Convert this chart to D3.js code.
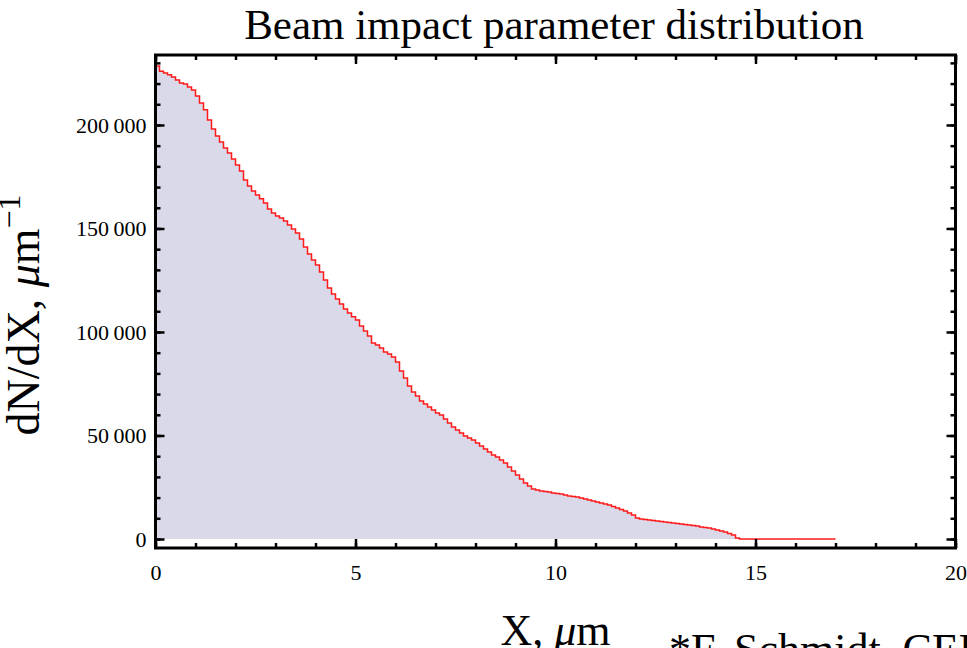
<!DOCTYPE html>
<html>
<head>
<meta charset="utf-8">
<script src="https://cdn.jsdelivr.net/npm/d3@7"></script>
<style>
  body { margin: 0; background: #fff; }
  svg text { font-family: "Liberation Serif", "Times New Roman", serif; fill: #000; }
</style>
</head>
<body>
<script>
// histogram of impact parameter, bins of 0.1 um starting at 0
var binStart = 0;
var binWidth = 0.1;
var dNdX = [
  228500, 226000, 225100, 224200, 223200, 221700, 220300, 219800, 218400, 216900,
  214000, 210600, 207300, 202400, 198100, 194700, 191800, 188900, 186500, 183600,
  180700, 177800, 173400, 170500, 168100, 166200, 164300, 162300, 159400, 157500,
  156000, 155100, 153600, 151700, 149800, 147800, 144900, 141100, 137700, 134800,
  132400, 129000, 125100, 121300, 118400, 115900, 113500, 111100, 109200, 107300,
  105800, 102900, 100500, 98100, 94700, 93700, 92300, 90300, 89400, 87900,
  85500, 81200, 77800, 73900, 71000, 69100, 66700, 65200, 63800, 62300,
  60900, 59900, 58000, 56000, 54100, 52700, 51200, 49800, 48800, 47800,
  46400, 44900, 43500, 42000, 40600, 39600, 38200, 36700, 34800, 32900,
  30900, 29000, 27100, 25600, 24200, 23700, 23200, 23000, 22700, 22200,
  22000, 21700, 21300, 20800, 20500, 20300, 19800, 19300, 18800, 18400,
  17900, 17400, 16900, 16400, 15700, 15000, 14300, 13500, 12600, 11600,
  10200, 9700, 9400, 9200, 8900, 8700, 8500, 8200, 8000, 7700,
  7500, 7300, 7000, 6800, 6500, 6300, 5800, 5600, 5300, 4800,
  4400, 3900, 3400, 2700, 1900, 500, 0, 0, 0, 0,
  0, 0, 0, 0, 0, 0, 0, 0, 0, 0,
  0, 0, 0, 0, 0, 0, 0, 0, 0, 0
];

var xMajor = [0, 5, 10, 15, 20];
var xMinor = d3.range(0, 21, 1);
var yMajor = [0, 50000, 100000, 150000, 200000];
var yMajorLabels = ["0", "50\u2009000", "100\u2009000", "150\u2009000", "200\u2009000"];
var yMinor = d3.range(0, 230001, 10000);

var title = "Beam impact parameter distribution";
var credit = "*F. Schmidt, CERN";

var w = 967;
var h = 648;
var fLeft = 155.5, fRight = 955.5, fTop = 55, fBottom = 548;

var svg = d3.select("body")
            .append("svg")
            .attr("width", w)
            .attr("height", h);

var x = d3.scaleLinear().domain([0, 20]).range([fLeft, fRight]);
var y = d3.scaleLinear().domain([-4350, 233800]).range([fBottom, fTop]);

// step points: each bin value held until the next bin edge
var pts = dNdX.map(function(v, i) { return { x: binStart + i * binWidth, v: v }; });
pts.push({ x: binStart + dNdX.length * binWidth, v: dNdX[dNdX.length - 1] });

var area = d3.area()
  .curve(d3.curveStepAfter)
  .x(function(d) { return x(d.x); })
  .y0(y(0))
  .y1(function(d) { return y(d.v); });

var line = d3.line()
  .curve(d3.curveStepAfter)
  .x(function(d) { return x(d.x); })
  .y(function(d) { return y(d.v); });

svg.append("path")
  .datum(pts)
  .attr("d", area)
  .attr("fill", "#d9d9ea");

svg.append("path")
  .datum(pts)
  .attr("d", line)
  .attr("fill", "none")
  .attr("stroke", "#ff1a1a")
  .attr("stroke-width", 1.5);

// frame ticks, all pointing inward
function tickAxis(axis, tx, ty) {
  var g = svg.append("g")
    .attr("transform", "translate(" + tx + "," + ty + ")")
    .call(axis);
  g.select(".domain").remove();
  g.selectAll(".tick line").attr("stroke", "#000").attr("stroke-width", 2.5);
  g.selectAll(".tick text")
    .style("font-size", "22px")
    .style("font-family", "'Liberation Serif', serif");
  return g;
}

tickAxis(d3.axisBottom(x).tickValues(xMinor).tickSize(-5).tickFormat(""), 0, fBottom);
tickAxis(d3.axisBottom(x).tickValues(xMajor).tickSizeInner(-9).tickPadding(16)
  .tickFormat(d3.format("d")), 0, fBottom);
tickAxis(d3.axisTop(x).tickValues(xMinor).tickSize(-5).tickFormat(""), 0, fTop);
tickAxis(d3.axisTop(x).tickValues(xMajor).tickSize(-9).tickFormat(""), 0, fTop);

tickAxis(d3.axisLeft(y).tickValues(yMinor).tickSize(-5).tickFormat(""), fLeft, 0);
tickAxis(d3.axisLeft(y).tickValues(yMajor).tickSizeInner(-9).tickPadding(9)
  .tickFormat(function(d, i) { return yMajorLabels[i]; }), fLeft, 0);
tickAxis(d3.axisRight(y).tickValues(yMinor).tickSize(-5).tickFormat(""), fRight, 0);
tickAxis(d3.axisRight(y).tickValues(yMajor).tickSize(-9).tickFormat(""), fRight, 0);

svg.append("rect")
  .attr("x", fLeft)
  .attr("y", fTop)
  .attr("width", fRight - fLeft)
  .attr("height", fBottom - fTop)
  .attr("fill", "none")
  .attr("stroke", "#000")
  .attr("stroke-width", 3);

// texts
svg.append("text")
  .attr("x", 554)
  .attr("y", 39)
  .attr("text-anchor", "middle")
  .attr("font-size", 43)
  .text(title);

var yl = svg.append("text")
  .attr("transform", "translate(39,315) rotate(-90)")
  .attr("text-anchor", "middle")
  .attr("font-size", 46);
yl.append("tspan").text("dN/dX, ");
yl.append("tspan").style("font-style", "italic").text("\u03bc");
yl.append("tspan").text("m");
yl.append("tspan").attr("dy", -19).attr("font-size", 32).text("\u22121");

var xl = svg.append("text")
  .attr("x", (fLeft + fRight) / 2)
  .attr("y", 645)
  .attr("text-anchor", "middle")
  .attr("font-size", 44);
xl.append("tspan").text("X, ");
xl.append("tspan").style("font-style", "italic").text("\u03bc");
xl.append("tspan").text("m");

svg.append("text")
  .attr("x", 669)
  .attr("y", 664)
  .attr("font-size", 44)
  .text(credit);
</script>
</body>
</html>
